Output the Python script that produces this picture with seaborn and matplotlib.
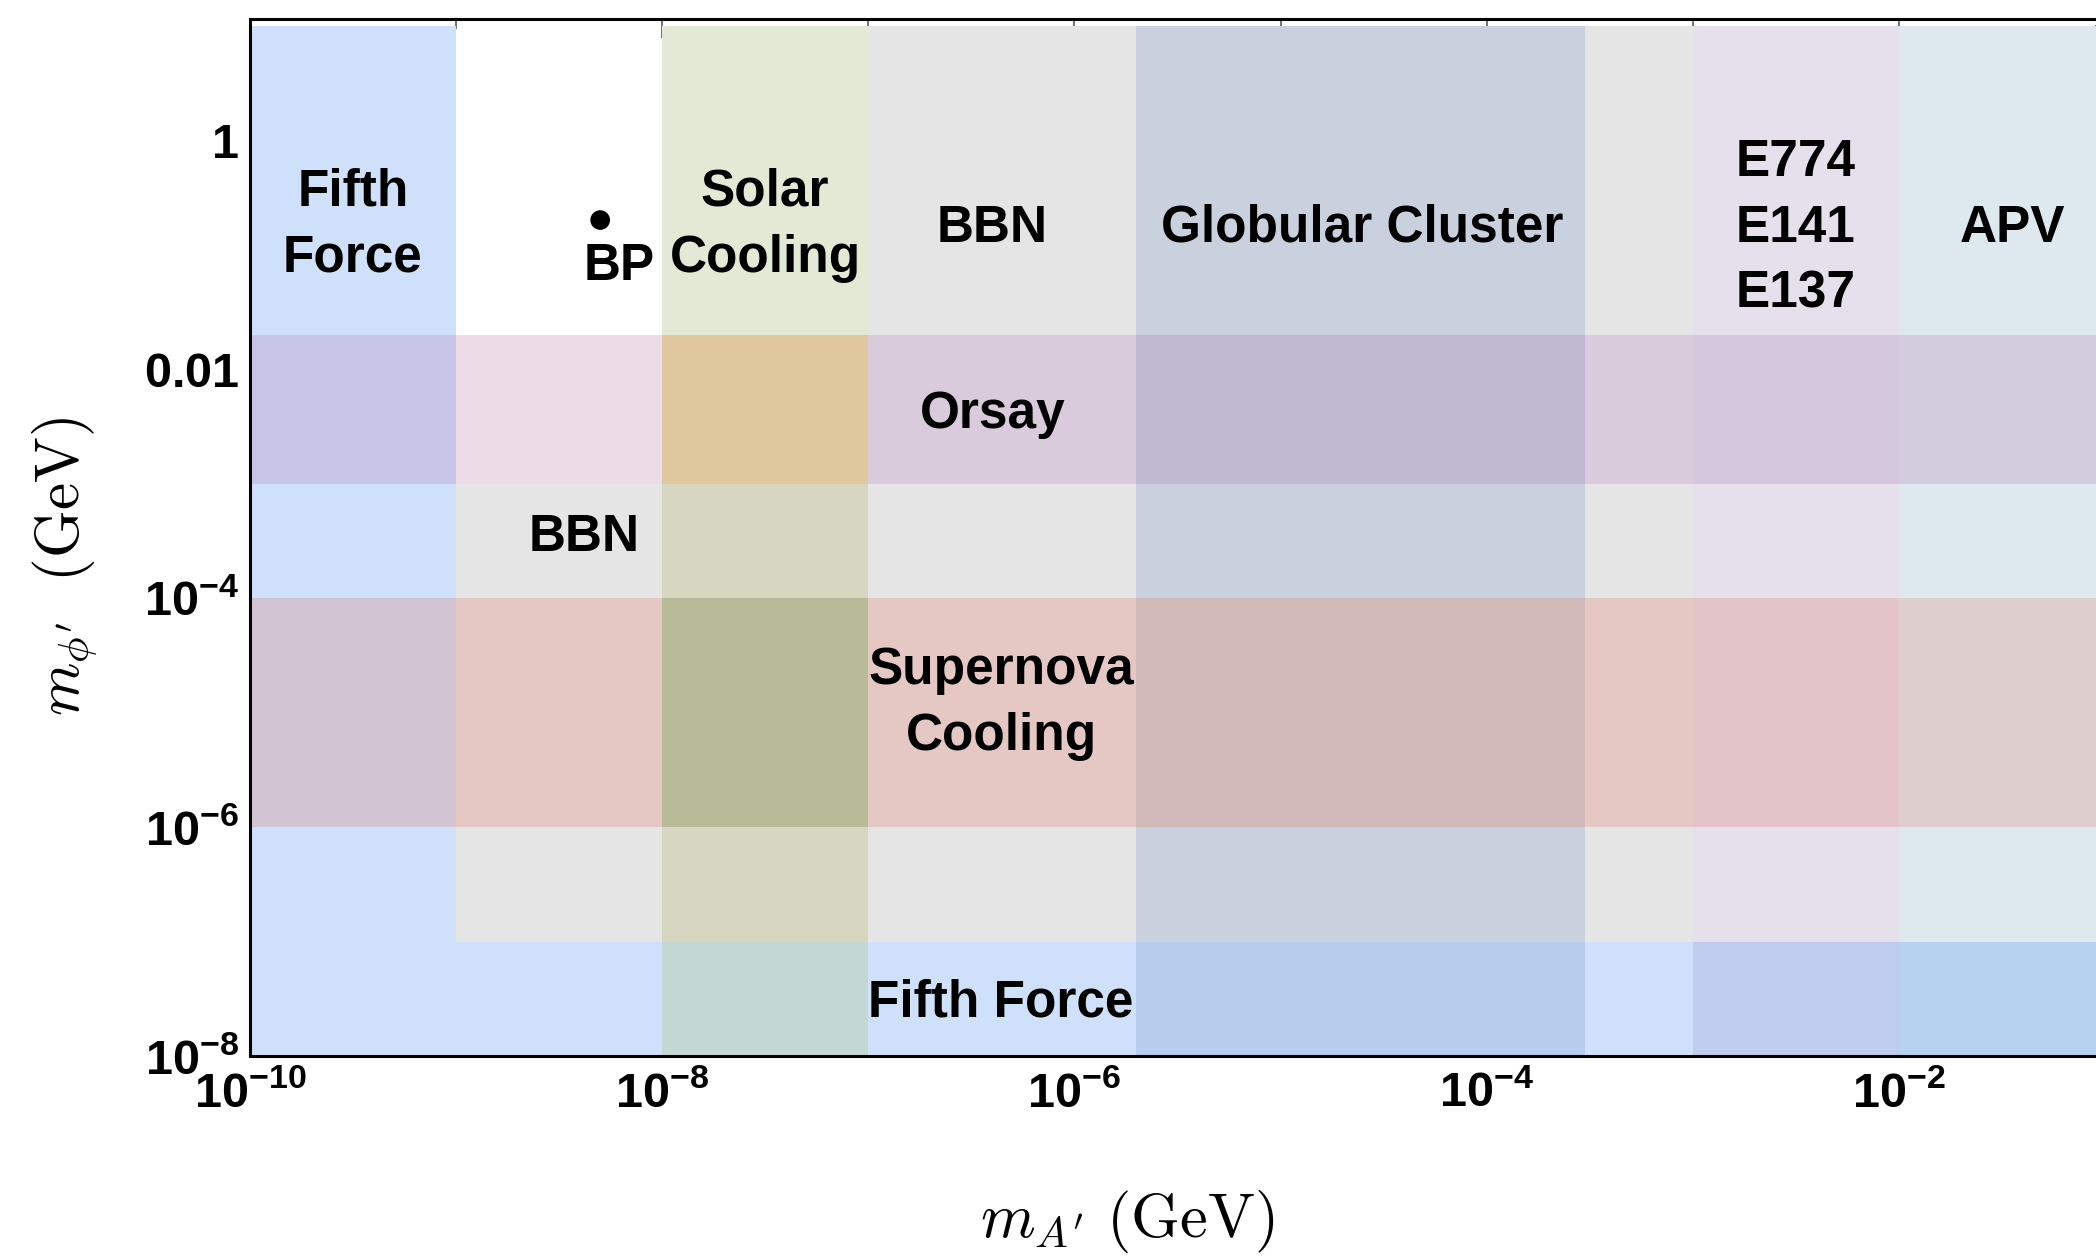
import matplotlib
matplotlib.use("Agg")
import matplotlib.pyplot as plt
from matplotlib.colors import ListedColormap
import numpy as np
import seaborn as sns

# Constraint regions in the (m_A', m_phi') plane, both in GeV.
# Each entry is one rectangle; a constraint may use more than one.
region_key = ["ff", "ff", "bbn", "bbn", "sol", "gc", "e7", "apv", "orsay", "sn"]
region_x_lo = [1e-10, 1e-10, 1e-9, 1e-7, 1e-8, 2e-6, 1e-3, 1e-2, 1e-10, 1e-10]
region_x_hi = [1e-9, 1e-1, 1e-1, 1e-1, 1e-7, 3e-4, 1e-2, 1e-1, 1e-1, 1e-1]
region_y_lo = [1e-8, 1e-8, 1e-7, 1e-3, 1e-8, 1e-8, 1e-8, 1e-8, 1e-3, 1e-6]
region_y_hi = [10, 1e-7, 1e-3, 10, 10, 10, 10, 10, 2e-2, 1e-4]

# Benchmark point
bp_mA = [5e-9]
bp_mphi = [0.2]

# Region names written on the plot
label_text = ["Fifth\nForce", "Solar\nCooling", "BBN", "Globular Cluster",
              "E774\nE141\nE137", "APV", "Orsay", "BBN",
              "Supernova\nCooling", "Fifth Force", "BP"]
label_x = [3.16e-10, 3.16e-8, 4.0e-7, 2.5e-5, 3.16e-3, 3.55e-2,
           4.0e-7, 4.2e-9, 4.4e-7, 4.4e-7, 6.2e-9]
label_y = [0.18, 0.18, 0.17, 0.17, 0.17, 0.17,
           4.0e-3, 3.4e-4, 1.2e-5, 2.9e-8, 0.078]

# Axis ticks
x_major = [1e-10, 1e-8, 1e-6, 1e-4, 1e-2]
x_major_labels = [r"$\mathrm{10^{-10}}$", r"$\mathrm{10^{-8}}$", r"$\mathrm{10^{-6}}$",
                  r"$\mathrm{10^{-4}}$", r"$\mathrm{10^{-2}}$"]
x_minor = [1e-9, 1e-7, 1e-5, 1e-3, 1e-1]
y_major = [1e-8, 1e-6, 1e-4, 1e-2, 1]
y_major_labels = [r"$\mathrm{10^{-8}}$", r"$\mathrm{10^{-6}}$", r"$\mathrm{10^{-4}}$",
                  r"$\mathrm{0.01}$", r"$\mathrm{1}$"]
y_minor = [1e-7, 1e-5, 1e-3, 1e-1, 10]

# Fill shade for every combination of overlapping constraints
shade_list = [
    ("ff", "#CFE0FA"), ("sol", "#E2EAD6"), ("bbn", "#E5E5E5"), ("orsay", "#EDDCE7"),
    ("gc+bbn", "#CAD1DE"), ("e7+bbn", "#E5E0EB"), ("apv+bbn", "#DEE9EF"),
    ("ff+orsay", "#C8C6E8"), ("sol+orsay", "#E0C89E"), ("bbn+orsay", "#D9CBDB"),
    ("gc+bbn+orsay", "#C0B8D0"), ("e7+bbn+orsay", "#D5C7DE"), ("apv+bbn+orsay", "#D2CCDC"),
    ("sol+bbn", "#D6D6C1"), ("ff+sn", "#D3C4D4"), ("bbn+sn", "#E5C7C4"),
    ("sol+bbn+sn", "#B8BB97"), ("gc+bbn+sn", "#D1B8B9"), ("e7+bbn+sn", "#E3C5C9"),
    ("apv+bbn+sn", "#DECECE"), ("sol+ff", "#C3D8D2"), ("gc+ff", "#B8CCED"),
    ("e7+ff", "#C0CCED"), ("apv+ff", "#B7D1F0"),
]
shade = {frozenset(k.split("+")): c for k, c in shade_list}

sns.set_theme(style="white")
plt.rcParams["font.family"] = ["Liberation Sans", "DejaVu Sans"]
plt.rcParams["text.color"] = "black"
plt.rcParams["axes.labelcolor"] = "black"
plt.rcParams["xtick.labelcolor"] = "black"
plt.rcParams["ytick.labelcolor"] = "black"
plt.rcParams["mathtext.fontset"] = "custom"
plt.rcParams["mathtext.rm"] = "Liberation Sans:bold"
plt.rcParams["mathtext.bf"] = "Liberation Sans:bold"
plt.rcParams["mathtext.it"] = "Liberation Sans:bold:italic"

W, H = 2096, 1257
fig = plt.figure(figsize=(W / 100, H / 100), dpi=100, facecolor="white")
ax = fig.add_axes([250 / W, (H - 1056) / H, (2105 - 250) / W, (1056 - 19) / H])
ax.set_xscale("log")
ax.set_yscale("log")

# Split the plane along every region edge and shade each patch by the
# set of constraints that cover it.
xe = np.array(sorted(set(region_x_lo + region_x_hi)))
ye = np.array(sorted(set(region_y_lo + region_y_hi)))
xm = np.sqrt(xe[:-1] * xe[1:])
ym = np.sqrt(ye[:-1] * ye[1:])
palette = []
idx = np.full((len(ym), len(xm)), -1)
for j, yv in enumerate(ym):
    for i, xv in enumerate(xm):
        cover = frozenset(k for k, x0, x1, y0, y1 in zip(region_key, region_x_lo, region_x_hi,
                                                          region_y_lo, region_y_hi)
                          if x0 < xv < x1 and y0 < yv < y1)
        if cover:
            c = shade[cover]
            if c not in palette:
                palette.append(c)
            idx[j, i] = palette.index(c)
Z = np.ma.masked_less(idx, 0)
ax.pcolormesh(xe, ye, Z, cmap=ListedColormap(palette), vmin=-0.5,
              vmax=len(palette) - 0.5, shading="flat", antialiased=False,
              edgecolors="none", zorder=1)

sns.scatterplot(x=bp_mA, y=bp_mphi, s=200, color="black", edgecolor="none",
                ax=ax, zorder=5, legend=False)

for t, xv, yv in zip(label_text, label_x, label_y):
    ax.text(xv, yv, t, ha="center", va="center", multialignment="center",
            fontsize=37, fontweight="bold", linespacing=1.45, color="black", zorder=6)

ax.set_xlim(1e-10, 1e-1)
ax.set_ylim(1e-8, 10 ** 1.057)

ax.set_xticks(x_major)
ax.set_xticklabels(x_major_labels)
ax.set_xticks(x_minor, minor=True)
ax.set_xticklabels([], minor=True)
ax.set_yticks(y_major)
ax.set_yticklabels(y_major_labels)
ax.set_yticks(y_minor, minor=True)
ax.set_yticklabels([], minor=True)

ax.tick_params(which="both", direction="in", top=True, right=True,
               color="#666666", width=1.3, labelsize=35, labelcolor="black")
ax.tick_params(which="major", length=14)
ax.tick_params(which="minor", length=7)
ax.tick_params(axis="x", which="major", pad=11)
ax.tick_params(axis="y", which="major", pad=8)
for s in ax.spines.values():
    s.set_color("black")
    s.set_linewidth(2.2)
    s.set_zorder(10)

ax.set_xlabel(r"$m_{A'}\ (\mathrm{GeV})$", fontsize=45, math_fontfamily="cm", color="black")
ax.set_ylabel(r"$m_{\phi'}\ \ (\mathrm{GeV})$", fontsize=44, math_fontfamily="cm", color="black")
ax.xaxis.label.set_va("center")
ax.yaxis.label.set_va("center")
ax.xaxis.set_label_coords(0.473, -0.160)
ax.yaxis.set_label_coords(-0.100, 0.4725)
ax.grid(False)

fig.savefig("out.png", dpi=100, facecolor="white")
